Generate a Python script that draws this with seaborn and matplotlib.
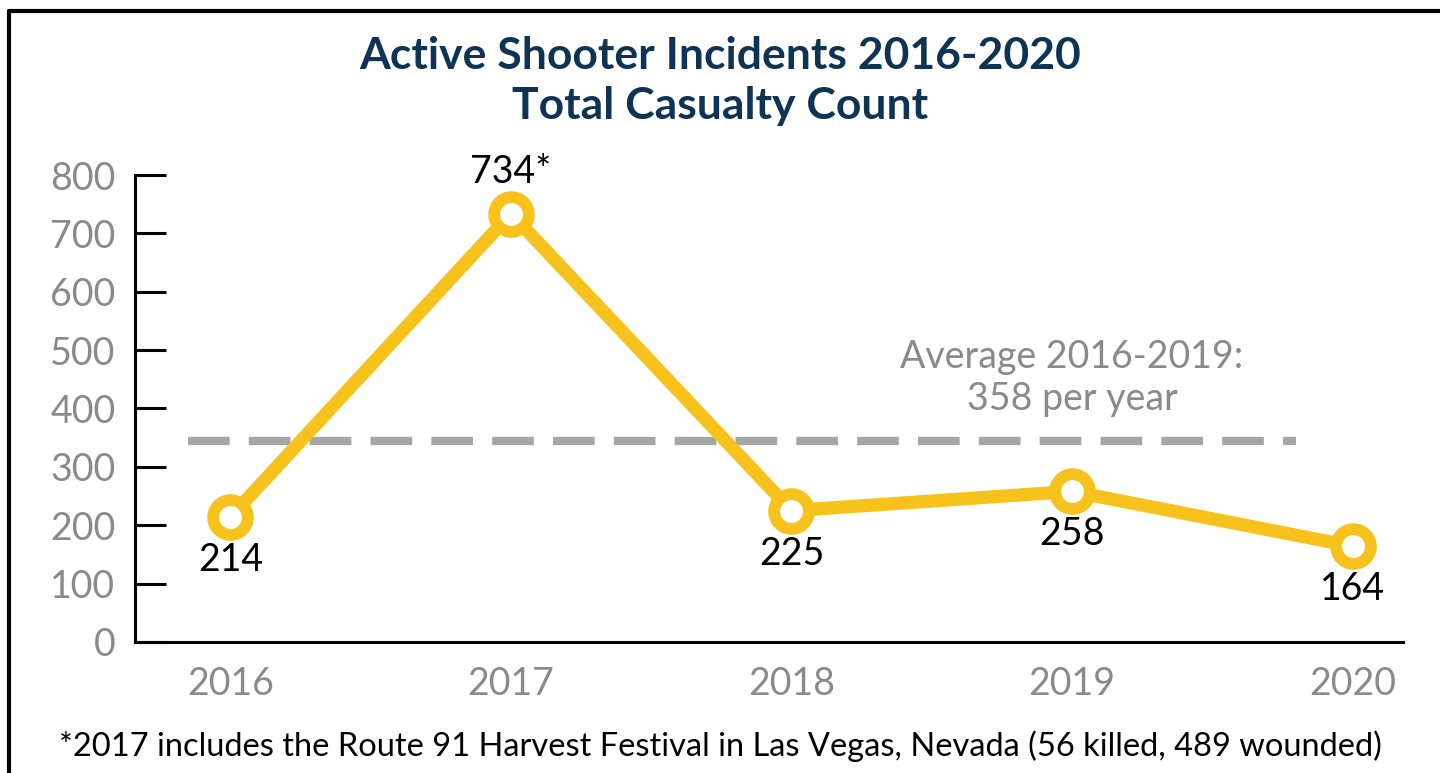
import matplotlib
matplotlib.use("Agg")
import matplotlib.pyplot as plt
import seaborn as sns
import pandas as pd
from matplotlib.lines import Line2D

# chart data
years = [2016, 2017, 2018, 2019, 2020]
casualties = [214, 734, 225, 258, 164]
point_labels = ["214", "734*", "225", "258", "164"]
label_above = [False, True, False, False, False]
average_level = 345
average_text = "Average 2016-2019:\n358 per year"
y_ticks = [0, 100, 200, 300, 400, 500, 600, 700, 800]
title = "Active Shooter Incidents 2016-2020\nTotal Casualty Count"
footnote = "*2017 includes the Route 91 Harvest Festival in Las Vegas, Nevada (56 killed, 489 wounded)"

sns.set_theme(style="white")
plt.rcParams['font.family'] = ['Lato', 'DejaVu Sans']

YELLOW = '#F6C21B'
NAVY = '#0E3354'
GREY = '#8A8A8A'

df = pd.DataFrame({'year': years, 'casualties': casualties})

fig = plt.figure(figsize=(14.4, 7.73), dpi=100)
ax = fig.add_axes([0.09375, 0.1695, 0.8806, 0.6041])

# dashed average line
ax.plot([2015.85, 2019.8], [average_level, average_level], color='#A6A6A6',
        lw=6, dashes=(5, 2.3), zorder=1)
ax.text(2019.0, 452, average_text, ha='center', va='center', fontsize=27,
        color=GREY, linespacing=1.2)

sns.lineplot(data=df, x='year', y='casualties', ax=ax, color=YELLOW, lw=9.5,
             marker='o', markersize=25, markerfacecolor='white',
             markeredgecolor=YELLOW, markeredgewidth=8.5, zorder=3)

for x, y, lab, up in zip(years, casualties, point_labels, label_above):
    dy = 30 if up else -31
    ax.annotate(lab, (x, y), xytext=(0, dy), textcoords='offset points',
                ha='center', va='center', fontsize=27, color='black')

ax.set_xlim(2015.66, 2020.18)
ax.set_ylim(0, 800)
ax.set_xticks(years)
ax.set_xticklabels([str(y) for y in years])
ax.set_yticks(y_ticks)
ax.set_xlabel('')
ax.set_ylabel('')

for s in ['top', 'right']:
    ax.spines[s].set_visible(False)
for s in ['left', 'bottom']:
    ax.spines[s].set_linewidth(2.2)
    ax.spines[s].set_color('black')

ax.tick_params(axis='y', direction='in', length=22, width=2.2, color='black',
               labelsize=27, labelcolor=GREY, pad=14, left=True)
ax.tick_params(axis='x', length=0, labelsize=27, labelcolor=GREY, pad=17)

fig.text(0.5, 0.895, title, ha='center', va='center', fontsize=32,
         fontweight='bold', color=NAVY, linespacing=1.3)
fig.text(0.5, 0.035, footnote, ha='center', va='center', fontsize=23.5,
         color='black')

# frame around the figure (top and left edges visible)
fig.add_artist(Line2D([9 / 1440, 9 / 1440], [0, 1 - 11 / 773], color='black',
                      lw=3, transform=fig.transFigure))
fig.add_artist(Line2D([9 / 1440, 1], [1 - 11 / 773, 1 - 11 / 773], color='black',
                      lw=3, transform=fig.transFigure))

fig.savefig('out.png', dpi=100)
